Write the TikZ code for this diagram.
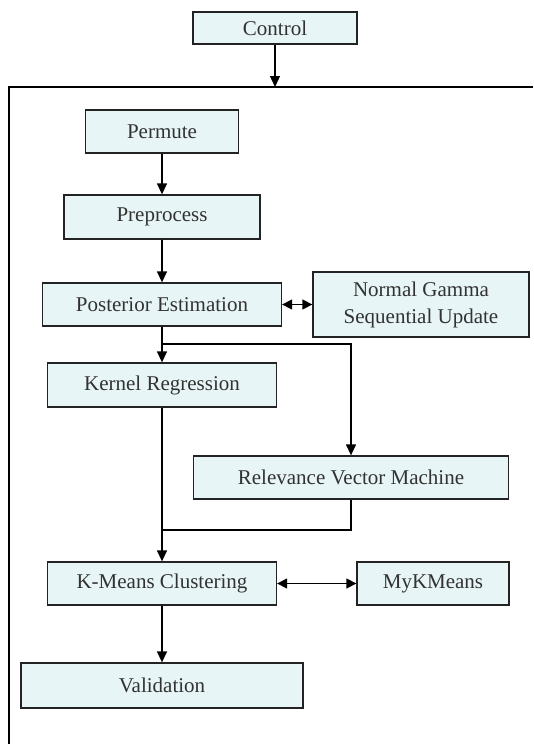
\documentclass[tikz,border=0pt]{standalone}
\usepackage{fontspec}
\setmainfont{Liberation Serif}
\usetikzlibrary{arrows.meta}
\definecolor{boxfill}{RGB}{231,245,246}
\definecolor{boxline}{RGB}{35,35,35}
\definecolor{txt}{RGB}{50,50,50}
\begin{document}
\begin{tikzpicture}[x=1pt,y=-1pt,
  box/.style={draw=boxline,fill=boxfill,line width=1.3pt,inner sep=0pt,
    text=txt,font=\fontsize{21}{27}\selectfont,align=center},
  conn/.style={line width=1.3pt,draw=black},
  arr/.style={conn,-{Triangle[length=11pt,width=10pt]}},
  darr/.style={conn,{Triangle[length=10pt,width=10pt]}-{Triangle[length=10pt,width=10pt]}}]
\useasboundingbox (0,0) rectangle (533,744);
% frame (top and left sides only)
\draw[conn] (533,87) -- (9,87) -- (9,744);
\coordinate (ftop) at (275,87);
% nodes
\node[box,minimum width=164pt,minimum height=32pt] (control) at (275,28) {Control};
\node[box,minimum width=153pt,minimum height=43pt] (permute) at (162,131.5) {Permute};
\node[box,minimum width=196pt,minimum height=44pt] (prep) at (162,217) {Preprocess};
\node[box,minimum width=239pt,minimum height=43pt] (post) at (162,304.5) {Posterior Estimation};
\node[box,minimum width=216pt,minimum height=65pt] (ng) at (421,304.5) {Normal Gamma\\Sequential Update};
\node[box,minimum width=229pt,minimum height=44pt] (kern) at (162,385) {Kernel Regression};
\node[box,minimum width=315pt,minimum height=43pt] (rvm) at (351,477.5) {Relevance Vector Machine};
\node[box,minimum width=229pt,minimum height=43pt] (km) at (162,583.5) {K-Means Clustering};
\node[box,minimum width=152pt,minimum height=43pt] (mykm) at (433,583.5) {MyKMeans};
\node[box,minimum width=282pt,minimum height=45pt] (valid) at (162,685.5) {Validation};
% helper coordinates
\coordinate (split) at (162,344);
\coordinate (splitr) at (351,344);
\coordinate (joinr) at (351,530);
\coordinate (join) at (162,530);
% connectors
\draw[arr] (control) -- (ftop);
\draw[arr] (permute) -- (prep);
\draw[arr] (prep) -- (post);
\draw[darr] (post) -- (ng);
\draw[arr] (post) -- (kern);
\draw[arr] (split) -- (splitr) -- (rvm);
\draw[arr] (kern) -- (km);
\draw[conn] (rvm) -- (joinr) -- (join);
\draw[darr] (km) -- (mykm);
\draw[arr] (km) -- (valid);
\end{tikzpicture}
\end{document}
